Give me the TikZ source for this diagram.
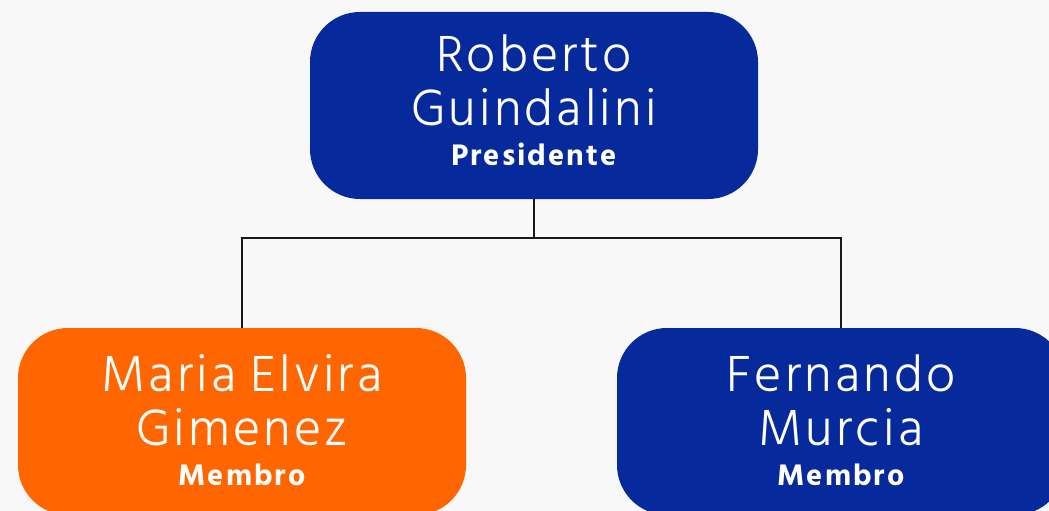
\documentclass[tikz,border=0pt]{standalone}
\usepackage{fontspec}
\setmainfont{Hind Siliguri}[UprightFont=* Light, BoldFont=* Bold, LetterSpace=6]
\newfontfamily\rolefont{Hind Siliguri}[UprightFont=* Bold, LetterSpace=6.5]
\usetikzlibrary{positioning}
\definecolor{boardblue}{HTML}{062A9B}
\definecolor{boardorange}{HTML}{FF6600}
\definecolor{pagegray}{HTML}{F8F8F8}

\begin{document}
\begin{tikzpicture}[x=1pt, y=1pt,
personnode/.style={rectangle, rounded corners=50pt, minimum width=448pt, minimum height=187pt, inner sep=0pt, outer sep=0pt, text depth=10pt, text=white, align=center, font=\fontsize{52}{54}\selectfont},
bluenode/.style={personnode, fill=boardblue},
orangenode/.style={personnode, fill=boardorange},
membernode/.style={text depth=3pt},
]
\fill[pagegray] (0,0) rectangle (1049,-511);
\useasboundingbox (0,0) rectangle (1049,-511);
%Nodes
\node[bluenode]              (Roberto)     at (534,-105.5)                        {Roberto\\Guindalini\\[-14pt]{\fontsize{30.5}{30.5}\rolefont Presidente}};
\node[orangenode,membernode] (Maria)       [below=129pt of Roberto, xshift=-292pt] {Maria Elvira\\Gimenez\\[-14pt]{\fontsize{30.5}{30.5}\rolefont Membro}};
\node[bluenode,membernode]   (Fernando)    [below=129pt of Roberto, xshift=307pt]  {Fernando\\Murcia\\[-14pt]{\fontsize{30.5}{30.5}\rolefont Membro}};
\coordinate                  (split)       at ([yshift=-39pt]Roberto.south);

%Lines
\draw[line width=1.6pt, black!90] (Roberto.south) -- (split);
\draw[line width=1.6pt, black!90] (Maria.north) |- (split) -| (Fernando.north);
\end{tikzpicture}
\end{document}
